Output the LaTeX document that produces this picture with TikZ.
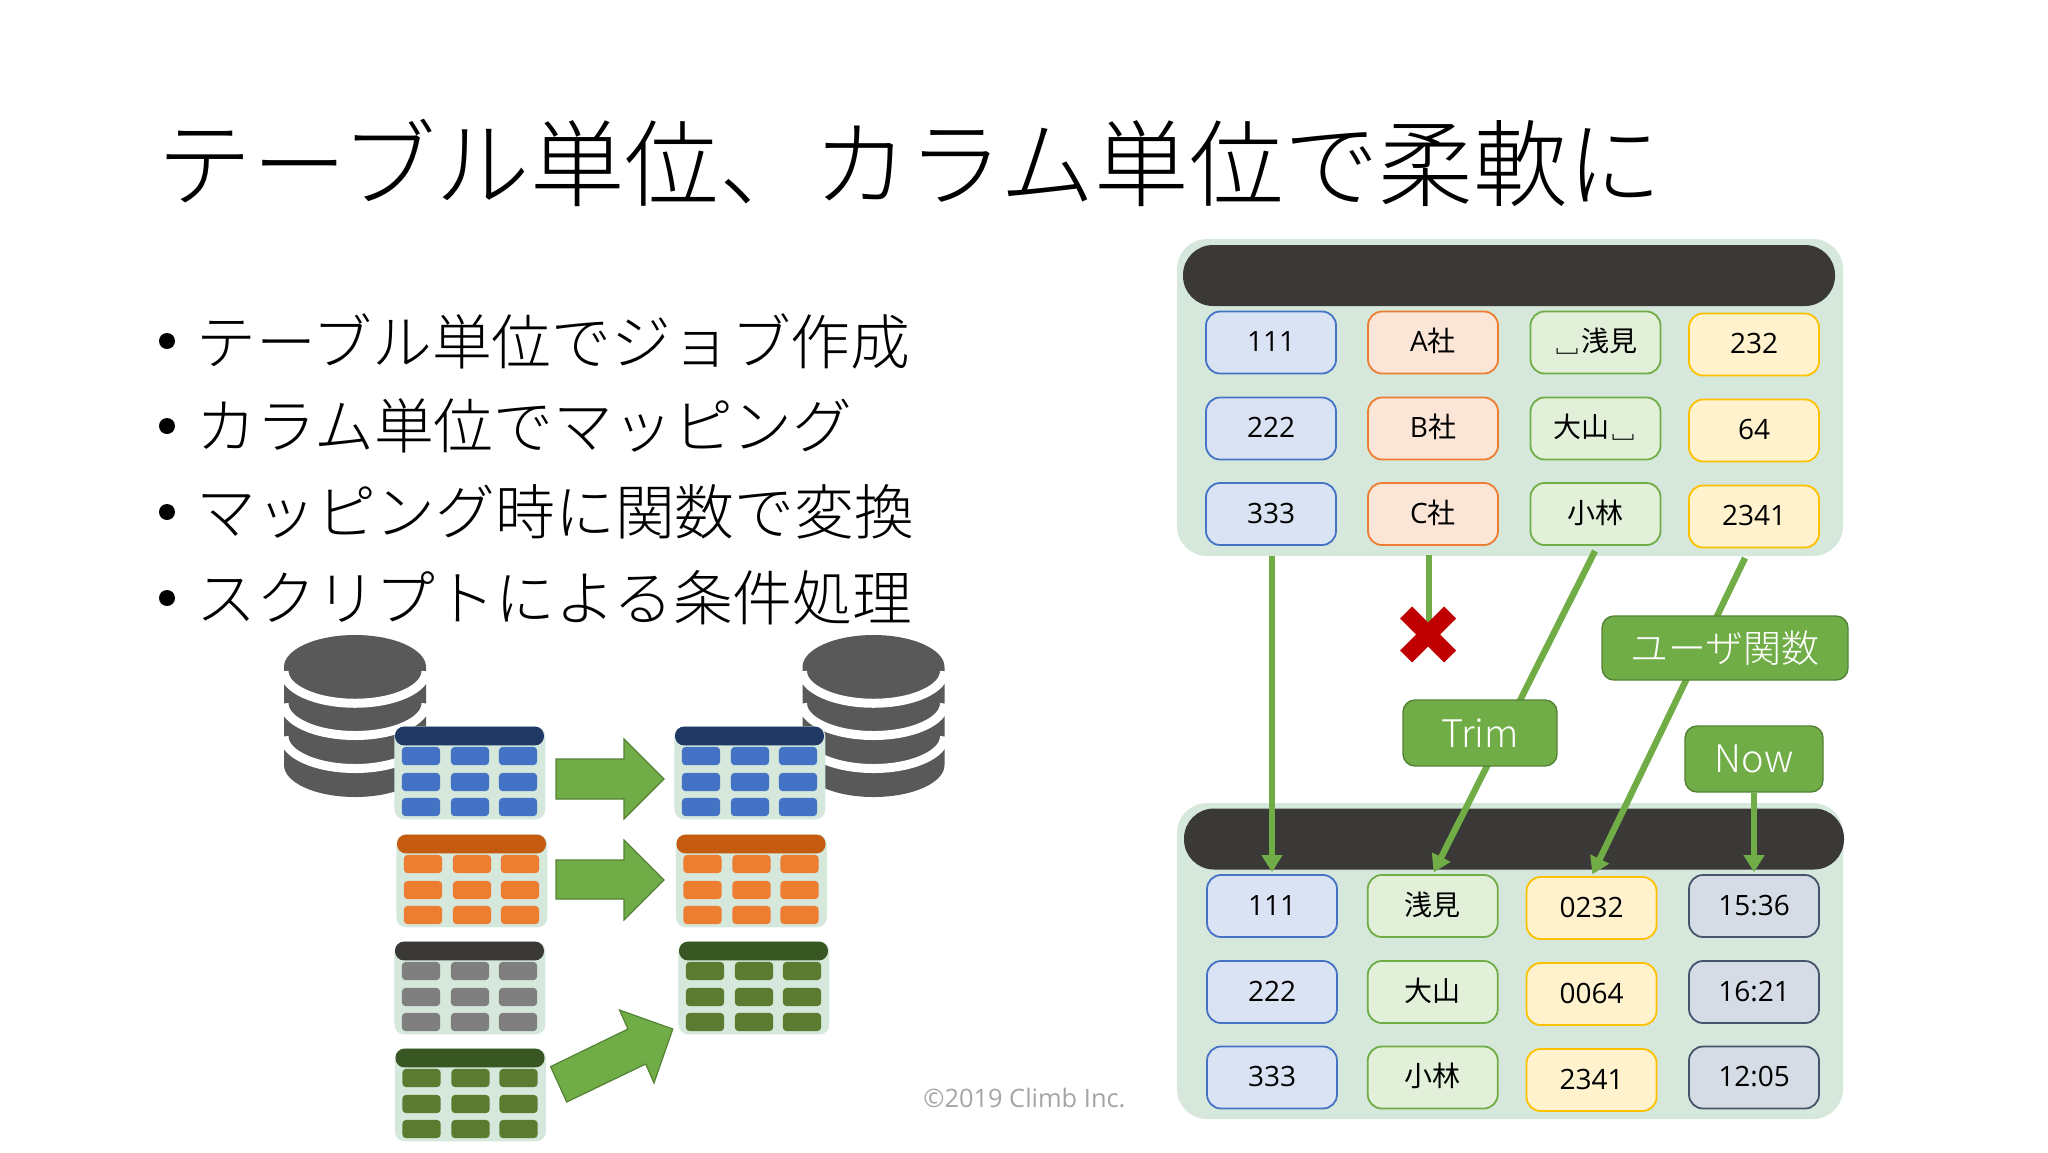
\documentclass[tikz,border=0pt]{standalone}
\usepackage{fontspec}
\usetikzlibrary{arrows.meta}
\setmainfont{Open Sans}
\newfontfamily\cjk{Noto Sans CJK JP}
\newfontfamily\cjklight{Noto Sans CJK JP Light}
\definecolor{panelbg}{HTML}{D5E8DB}
\definecolor{barcol}{HTML}{3B3838}
\definecolor{gline}{HTML}{70AD47}
\definecolor{gedge}{HTML}{548235}
\definecolor{dbcol}{HTML}{595959}
\definecolor{tblue}{HTML}{4472C4}\definecolor{tbluehd}{HTML}{1F3864}
\definecolor{torange}{HTML}{ED7D31}\definecolor{torangehd}{HTML}{C55A11}
\definecolor{tgray}{HTML}{7F7F7F}
\definecolor{tgreen}{HTML}{5B7B31}\definecolor{tgreenhd}{HTML}{385723}
\definecolor{crossred}{HTML}{C00000}
\definecolor{copygray}{HTML}{A5A5A5}
\definecolor{bluefill}{HTML}{DAE3F3}
\definecolor{orangefill}{HTML}{FBE5D6}
\definecolor{greenfill}{HTML}{E2F0D9}
\definecolor{yellowedge}{HTML}{FFC000}
\definecolor{yellowfill}{HTML}{FFF2CC}
\definecolor{slateedge}{HTML}{44546A}
\definecolor{slatefill}{HTML}{D6DCE5}
\tikzset{
 px/.style={x=0.5pt,y=-0.5pt},
 panel/.style={fill=panelbg,rounded corners=15pt,minimum width=333pt,inner sep=0pt,draw=none},
 bar/.style={fill=barcol,rounded corners=15pt,minimum height=30.5pt,inner sep=0pt,draw=none},
 cell/.style={rounded corners=7pt,minimum width=65pt,minimum height=31pt,inner sep=0pt,line width=0.9pt,font=\fontsize{14}{16}\selectfont,text=black,text height=10pt,text depth=1pt},
 bluec/.style={cell,draw=tblue,fill=bluefill},
 orangec/.style={cell,draw=torange,fill=orangefill},
 greenc/.style={cell,draw=gline,fill=greenfill},
 yellowc/.style={cell,draw=yellowedge,fill=yellowfill},
 slatec/.style={cell,draw=slateedge,fill=slatefill},
 func/.style={fill=gline,draw=gedge,line width=0.7pt,rounded corners=6pt,inner sep=0pt,text=white,font=\fontsize{19}{21}\cjklight},
 conn/.style={draw=gline,line width=3.2pt},
 connarrow/.style={conn,-{Triangle[length=8.5pt,width=10pt]},shorten >=1pt},
 bigarrow/.style={fill=gline,draw=gedge,line width=0.6pt},
 tcell/.style={rounded corners=2pt,minimum width=19.2pt,minimum height=9.2pt,inner sep=0pt,draw=none},
 tpanel/.style={fill=panelbg,rounded corners=5pt,minimum width=75.5pt,minimum height=46.5pt,inner sep=0pt,draw=none,anchor=north west},
 thead/.style={rounded corners=4.5pt,minimum width=74.5pt,minimum height=9.4pt,inner sep=0pt,draw=none},
 bullettext/.style={anchor=west,inner sep=0pt,font=\fontsize{29.9}{32}\cjklight},
}
\newcommand{\tbl}[5]{%
 \node[tpanel] (#1) at (#2,#3) {};
 \node[thead,fill=#4] (#1h) at (#2+75.5,#3+10) {};
 \foreach \cx/\cn in {27/a,76/b,124/c}{
  \foreach \cy/\rn in {30/1,56/2,81/3}{
   \node[tcell,fill=#5] (#1\cn\rn) at (#2+\cx,#3+\cy) {};
  }
 }
}
\newcommand{\cyl}[1]{%
 \fill[dbcol] (#1-71,667) arc (180:0:35.5pt and 16pt) -- (#1+71,765) arc (0:-180:35.5pt and 16pt) -- cycle;
 \foreach \yc in {671.25,703.5,736.5}{
  \draw[white,line width=4.5pt] (#1-71,\yc) arc (180:360:35.5pt and 16pt);
 }
}
\begin{document}
\begin{tikzpicture}[px]
\useasboundingbox (0,0) rectangle (2048,1152);
\fill[white] (0,0) rectangle (2048,1152);
% title
\node[anchor=west,inner sep=0pt,font=\fontsize{47.3}{50}\cjklight] (title) at (157,163) {テーブル単位、カラム単位で柔軟に};
% bullets
\foreach \yy/\tx/\nm in {341/テーブル単位でジョブ作成/a,426/カラム単位でマッピング/b,512/マッピング時に関数で変換/c,598/スクリプトによる条件処理/d}{
 \fill[black] (167,\yy) circle (4pt);
 \node[bullettext] (bul\nm) at (196,\yy) {\tx};
}
% databases
\cyl{355}
\cyl{873.5}
% tables
\tbl{ls1}{394}{726}{tbluehd}{tblue}
\tbl{ls2}{396}{834}{torangehd}{torange}
\tbl{ls3}{394}{941}{barcol}{tgray}
\tbl{ls4}{394.5}{1048}{tgreenhd}{tgreen}
\tbl{rs1}{674}{726}{tbluehd}{tblue}
\tbl{rs2}{675.5}{834}{torangehd}{torange}
\tbl{rs3}{678}{941}{tgreenhd}{tgreen}
% block arrows
\draw[bigarrow] (556,759) -- (624,759) -- (624,739) -- (664,779) -- (624,819) -- (624,799) -- (556,799) -- cycle;
\draw[bigarrow] (556,860) -- (624,860) -- (624,840) -- (664,880) -- (624,920) -- (624,899) -- (556,899) -- cycle;
\draw[bigarrow] (550.6,1066.6) -- (628,1029) -- (619.5,1010) -- (672.8,1029) -- (654,1083) -- (645.7,1064) -- (566.7,1102) -- cycle;
\node[anchor=west,inner sep=0pt,text=copygray,font=\fontsize{12.7}{14}\selectfont] (copy) at (923,1098) {©2019 Climb Inc.};
% source panel
\node[panel,minimum height=158.5pt] (srcpanel) at (1510,397.5) {};
\node[bar,minimum width=326pt] (srcbar) at (1509,275.5) {};
\foreach \yy/\r/\t in {342.5/1/111,428.5/2/222,514/3/333}{\node[bluec] (a\r) at (1271,\yy) {\t};}
\node[orangec] (b1) at (1433,342.5) {A{\cjk 社}};
\node[orangec] (b2) at (1433,428.5) {B{\cjk 社}};
\node[orangec] (b3) at (1433,514) {C{\cjk 社}};
\node[greenc] (c1) at (1595.5,342.5) {{\cjk ␣浅見}};
\node[greenc] (c2) at (1595.5,428.5) {{\cjk 大山␣}};
\node[greenc] (c3) at (1595.5,514) {{\cjk 小林}};
\foreach \yy/\r/\t in {344.5/1/232,430.5/2/64,516.5/3/2341}{\node[yellowc] (d\r) at (1754,\yy) {\t};}
% target panel
\node[panel,minimum height=158pt] (dstpanel) at (1510,961) {};
\node[bar,minimum width=330pt] (dstbar) at (1514,839) {};
\foreach \yy/\r/\t in {906/1/111,992/2/222,1077.5/3/333}{\node[bluec] (e\r) at (1272,\yy) {\t};}
\node[greenc] (f1) at (1432.75,906) {{\cjk 浅見}};
\node[greenc] (f2) at (1432.75,992) {{\cjk 大山}};
\node[greenc] (f3) at (1432.75,1077.5) {{\cjk 小林}};
\foreach \yy/\r/\t in {908/1/0232,994/2/0064,1080/3/2341}{\node[yellowc] (g\r) at (1591.5,\yy) {\t};}
\foreach \yy/\r/\t in {906/1/15:36,992/2/16:21,1077.5/3/12:05}{\node[slatec] (h\r) at (1754,\yy) {\t};}
% connector ends
\coordinate (s1) at (1272,556);
\coordinate (s2) at (1429,555);
\coordinate (s3) at (1595,551);
\coordinate (s4) at (1745,558);
\coordinate (xm) at (1429,634.5);
\draw[connarrow] (s1) -- (e1.north);
\draw[connarrow] (s3) -- (f1.north);
\draw[connarrow] (s4) -- (g1.north);
\draw[conn] (s2) -- (xm);
\fill[crossred] (1428,622.5) -- (1444,606.5) -- (1456,618.5) -- (1440,634.5) -- (1456,650.5) -- (1444,662.5) -- (1428,646.5) -- (1412,662.5) -- (1400,650.5) -- (1416,634.5) -- (1400,618.5) -- (1412,606.5) -- cycle;
\node[func,minimum width=77pt,minimum height=33pt] (trim) at (1480,733) {Trim};
\node[func,minimum width=123pt,minimum height=32pt] (user) at (1725,648) {ユーザ関数};
\node[func,minimum width=69pt,minimum height=33pt] (now) at (1754,759) {Now};
\draw[connarrow] (now.south) -- (h1.north);
\end{tikzpicture}
\end{document}
